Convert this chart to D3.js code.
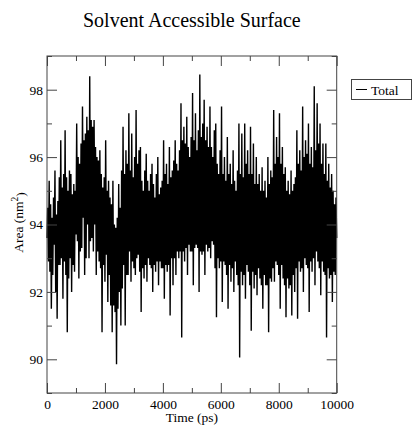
<!DOCTYPE html>
<html>
<head>
<meta charset="utf-8">
<title>Solvent Accessible Surface</title>
<script src="https://d3js.org/d3.v7.min.js"></script>
<style>
    body { margin: 0; background: #fff; }
    svg { display: block; }
    svg text { font-family: "Liberation Serif", "DejaVu Serif", serif; fill: #000; }
    .axis text { font-size: 13.5px; }
    .axis line { stroke: #444; }
    .axis path { display: none; }
</style>
</head>
<body>
<svg width="412" height="427"></svg>
<script>
    // time step of the trajectory (ps) and area values (nm^2)
    var timeStep = 25;
    var area = [
        93.6, 94.5, 92.9, 95.3, 92.6, 94.6, 91.5, 94.2,
        92.5, 94.8, 93.4, 95.6, 92.0, 94.3, 91.2, 94.7,
        92.8, 95.4, 92.8, 96.5, 93.0, 95.1, 91.8, 95.5,
        92.9, 96.8, 92.5, 95.4, 90.8, 95.0, 92.4, 95.6,
        93.0, 95.5, 92.0, 94.9, 92.8, 95.2, 92.6, 95.0,
        93.7, 97.0, 93.5, 96.0, 92.4, 95.8, 93.2, 96.4,
        93.3, 97.5, 94.2, 96.5, 92.5, 96.7, 93.0, 97.2,
        94.0, 96.8, 93.0, 98.4, 93.5, 97.1, 93.6, 96.9,
        93.2, 97.1, 94.0, 96.3, 92.5, 96.0, 93.2, 95.9,
        92.9, 96.2, 92.7, 95.5, 90.8, 95.1, 92.8, 95.4,
        92.3, 96.5, 93.1, 95.0, 91.7, 95.3, 92.5, 94.8,
        91.6, 94.6, 90.8, 95.3, 91.6, 94.0, 91.4, 93.9,
        89.85, 94.2, 91.5, 95.2, 92.0, 94.5, 91.0, 95.6,
        92.1, 96.9, 92.8, 95.5, 91.0, 96.2, 92.5, 95.8,
        92.5, 97.3, 93.2, 95.6, 92.3, 96.7, 92.9, 95.4,
        92.7, 96.0, 92.5, 97.4, 93.0, 95.8, 93.1, 96.2,
        92.6, 96.3, 91.4, 95.3, 92.7, 95.0, 92.4, 95.6,
        92.8, 96.1, 92.3, 95.3, 93.0, 95.0, 92.8, 95.5,
        92.7, 95.8, 92.0, 95.2, 92.8, 94.8, 92.6, 95.5,
        92.9, 96.0, 92.2, 94.9, 92.9, 95.1, 92.7, 95.3,
        92.7, 96.5, 91.8, 95.5, 92.8, 95.8, 92.6, 95.2,
        92.8, 96.3, 91.3, 95.4, 93.0, 95.6, 92.2, 95.9,
        93.0, 96.5, 92.5, 95.8, 93.2, 95.6, 93.0, 96.2,
        93.2, 97.6, 90.65, 96.5, 93.2, 96.9, 92.9, 96.4,
        93.3, 97.2, 92.5, 96.3, 93.4, 96.0, 93.2, 96.6,
        93.2, 97.9, 92.2, 96.5, 93.3, 97.3, 93.4, 96.2,
        93.3, 96.8, 92.0, 98.45, 93.2, 96.6, 93.1, 97.0,
        93.2, 97.7, 92.5, 96.5, 93.4, 96.9, 93.2, 96.3,
        93.3, 97.5, 93.0, 96.3, 93.5, 96.0, 93.4, 96.8,
        92.7, 97.0, 91.25, 95.8, 93.0, 95.5, 92.7, 96.2,
        92.9, 97.5, 91.7, 95.5, 92.9, 96.0, 92.8, 95.3,
        92.5, 96.6, 91.5, 95.5, 92.8, 95.8, 92.3, 95.2,
        92.7, 96.2, 92.0, 95.3, 92.9, 95.0, 92.5, 95.6,
        92.2, 97.0, 90.05, 95.5, 92.6, 96.7, 92.2, 95.4,
        92.5, 97.0, 91.8, 95.8, 92.8, 96.2, 92.6, 95.5,
        92.2, 96.9, 90.85, 95.5, 92.6, 96.4, 92.1, 95.2,
        92.5, 96.0, 91.9, 95.2, 92.7, 95.5, 92.4, 95.0,
        92.2, 95.7, 91.5, 95.0, 92.5, 95.3, 92.2, 94.8,
        92.2, 96.0, 90.8, 95.2, 92.4, 95.6, 92.3, 95.4,
        92.7, 97.4, 92.3, 95.8, 92.9, 96.6, 92.8, 96.0,
        92.5, 97.3, 91.5, 95.8, 92.8, 96.3, 92.4, 95.5,
        92.2, 95.7, 91.25, 95.0, 92.4, 95.3, 92.1, 94.9,
        92.2, 95.6, 91.3, 95.0, 92.5, 95.2, 92.0, 95.4,
        92.7, 96.8, 91.2, 95.8, 92.9, 96.2, 92.6, 95.6,
        92.7, 97.5, 92.0, 96.0, 93.0, 96.5, 92.8, 96.1,
        92.7, 97.0, 91.4, 95.8, 92.9, 96.3, 92.6, 95.7,
        93.0, 98.1, 92.2, 96.2, 93.2, 97.6, 92.9, 96.4,
        92.7, 97.0, 91.9, 95.8, 92.9, 96.4, 92.6, 95.5,
        92.5, 96.4, 90.65, 95.3, 92.7, 95.8, 92.4, 95.1,
        92.5, 95.5, 91.7, 95.0, 92.6, 94.6, 92.5, 94.8, 93.6
    ];
    var xMajor = [0, 2000, 4000, 6000, 8000, 10000];
    var xMinor = [1000, 3000, 5000, 7000, 9000];
    var yMajor = [90, 92, 94, 96, 98];
    var yMinor = [89, 91, 93, 95, 97, 99];
    var seriesName = "Total";

    (function () {
        var svg = d3.select("svg");
        var x0 = 47, x1 = 336.7, y0 = 56, y1 = 393;

        var x = d3.scaleLinear().domain([0, 10000]).range([x0, x1]);
        var y = d3.scaleLinear().domain([89, 99]).range([y1, y0]);

        // data line
        var line = d3.line()
            .x(function (d, i) { return x(i * timeStep); })
            .y(function (d) { return y(d); });

        svg.append("path")
            .datum(area)
            .attr("d", line)
            .attr("fill", "none")
            .attr("stroke", "#000")
            .attr("stroke-width", 1.4)
            .attr("stroke-linejoin", "miter")
            .attr("stroke-miterlimit", 2);

        // frame
        svg.append("rect")
            .attr("x", x0).attr("y", y0)
            .attr("width", x1 - x0).attr("height", y1 - y0)
            .attr("fill", "none")
            .attr("stroke", "#444")
            .attr("stroke-width", 1);

        // axes, ticks pointing inward on all four sides
        function addAxis(axis, tx, ty) {
            svg.append("g").attr("class", "axis")
                .attr("transform", "translate(" + tx + "," + ty + ")")
                .call(axis);
        }
        addAxis(d3.axisBottom(x).tickValues(xMajor).tickSize(-10).tickSizeOuter(0).tickPadding(6).tickFormat(d3.format("d")), 0, y1);
        addAxis(d3.axisBottom(x).tickValues(xMinor).tickSize(-5).tickSizeOuter(0).tickFormat(""), 0, y1);
        addAxis(d3.axisTop(x).tickValues(xMajor).tickSize(-10).tickSizeOuter(0).tickFormat(""), 0, y0);
        addAxis(d3.axisTop(x).tickValues(xMinor).tickSize(-5).tickSizeOuter(0).tickFormat(""), 0, y0);
        addAxis(d3.axisLeft(y).tickValues(yMajor).tickSize(-10).tickSizeOuter(0).tickPadding(4).tickFormat(d3.format("d")), x0, 0);
        addAxis(d3.axisLeft(y).tickValues(yMinor).tickSize(-5).tickSizeOuter(0).tickFormat(""), x0, 0);
        addAxis(d3.axisRight(y).tickValues(yMajor).tickSize(-10).tickSizeOuter(0).tickFormat(""), x1, 0);
        addAxis(d3.axisRight(y).tickValues(yMinor).tickSize(-5).tickSizeOuter(0).tickFormat(""), x1, 0);

        // title and axis labels
        svg.append("text")
            .attr("x", (x0 + x1) / 2).attr("y", 27)
            .attr("text-anchor", "middle")
            .attr("font-family", "'Liberation Serif', serif")
            .attr("font-size", "20px")
            .text("Solvent Accessible Surface");

        svg.append("text")
            .attr("x", (x0 + x1) / 2).attr("y", 422)
            .attr("text-anchor", "middle")
            .attr("font-size", "13.5px")
            .text("Time (ps)");

        var ylab = svg.append("text")
            .attr("transform", "translate(23," + ((y0 + y1) / 2 - 2) + ") rotate(-90)")
            .attr("text-anchor", "middle")
            .attr("font-size", "13.5px");
        ylab.append("tspan").text("Area (nm");
        ylab.append("tspan").attr("dy", "-0.5em").attr("font-size", "9.5px").text("2");
        ylab.append("tspan").attr("dy", "0.5em").text(")");

        // legend
        var legend = svg.append("g").attr("transform", "translate(351,79)");
        legend.append("rect")
            .attr("x", 0.5).attr("y", 0.5)
            .attr("width", 60).attr("height", 20)
            .attr("fill", "#fff")
            .attr("stroke", "#444");
        legend.append("line")
            .attr("x1", 5).attr("x2", 16)
            .attr("y1", 10.5).attr("y2", 10.5)
            .attr("stroke", "#000");
        legend.append("text")
            .attr("x", 20).attr("y", 15.5)
            .attr("font-size", "13.5px")
            .text(seriesName);
    })();
</script>
</body>
</html>
